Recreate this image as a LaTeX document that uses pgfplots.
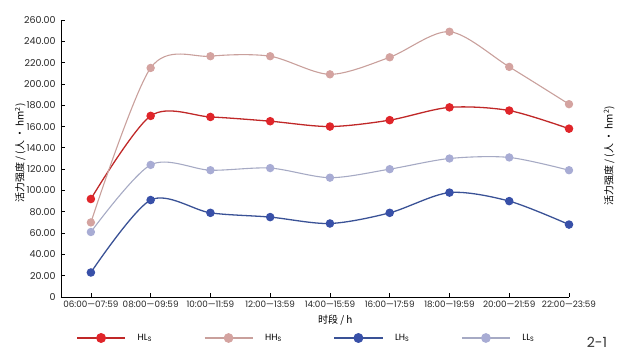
\documentclass[border=0pt]{standalone}
\usepackage{pgfplots}
\pgfplotsset{compat=1.18}
\usepackage{fontspec}
\setmainfont{Poppins}
\newfontfamily\cjk{Noto Sans CJK SC}
\definecolor{hlL}{HTML}{C02828}
\definecolor{hlM}{HTML}{E0252A}
\definecolor{hhL}{HTML}{C9A09C}
\definecolor{hhM}{HTML}{D4A3A0}
\definecolor{lhL}{HTML}{3A5296}
\definecolor{lhM}{HTML}{3850A8}
\definecolor{llL}{HTML}{A6AAC4}
\definecolor{llM}{HTML}{A8ACD4}
\begin{document}
\begin{tikzpicture}
\path[use as bounding box] (0,0) rectangle (617bp,356bp);
\begin{axis}[
  at={(61bp,59bp)}, anchor=south west,
  scale only axis, width=508bp, height=277bp,
  xmin=-0.5, xmax=8, ymin=0, ymax=260,
  axis x line=bottom, axis y line=left,
  axis line style={-, black, line width=0.8pt},
  tick align=inside, major tick length=3.5bp,
  tick style={black, line width=0.7pt},
  xtick={0,...,8},
  xticklabels={06:00—07:59,08:00—09:59,10:00—11:59,12:00—13:59,14:00—15:59,16:00—17:59,18:00—19:59,20:00—21:59,22:00—23:59},
  ytick={0,20,...,260},
  yticklabels={0,20.00,40.00,60.00,80.00,100.00,120.00,140.00,160.00,180.00,200.00,220.00,240.00,260.00},
  /pgf/number format/assume math mode=true,
  tick label style={text=black!85},
  xticklabel style={font=\fontsize{8.8bp}{10bp}\selectfont, inner xsep=0pt, yshift=0bp},
  yticklabel style={font=\fontsize{9.5bp}{10bp}\selectfont, xshift=-2bp},
  ylabel={\cjk 活力强度 / (人 · hm\textsuperscript{2})},
  ylabel style={font=\fontsize{10bp}{11bp}\selectfont, at={(axis description cs:-0.08,0.52)}, anchor=center},
  xlabel={\cjk 时段 / h},
  xlabel style={font=\fontsize{10bp}{11bp}\selectfont, at={(axis description cs:0.54,-0.083)}, anchor=center},
  clip=false,
  legend columns=4,
  legend style={draw=none, fill=none, at={(axis description cs:0.03,-0.148)}, anchor=west,
    font=\fontsize{9bp}{10bp}\selectfont, inner sep=0pt,
    /tikz/every odd column/.append style={column sep=10bp},
    /tikz/every even column/.append style={column sep=50bp}},
  legend image code/.code={\draw[mark repeat=2, mark phase=2, #1, mark size=4.3bp] plot coordinates {(0bp,0bp) (24bp,0bp) (48bp,0bp)};},
]
\addplot[smooth, hlL, line width=1.3pt, mark=*, mark size=3.6bp, mark options={fill=hlM, draw=hlM}]
  coordinates {(0,92) (1,170) (2,169) (3,165) (4,160) (5,166) (6,178) (7,175) (8,158)};
\addlegendentry{HL\textsubscript{S}}
\addplot[smooth, hhL, line width=1.1pt, mark=*, mark size=3.6bp, mark options={fill=hhM, draw=hhM}]
  coordinates {(0,70) (1,215) (2,226) (3,226) (4,209) (5,225) (6,249) (7,216) (8,181)};
\addlegendentry{HH\textsubscript{S}}
\addplot[smooth, lhL, line width=1.3pt, mark=*, mark size=3.6bp, mark options={fill=lhM, draw=lhM}]
  coordinates {(0,23) (1,91) (2,79) (3,75) (4,69) (5,79) (6,98) (7,90) (8,68)};
\addlegendentry{LH\textsubscript{S}}
\addplot[smooth, llL, line width=1.1pt, mark=*, mark size=3.6bp, mark options={fill=llM, draw=llM}]
  coordinates {(0,61) (1,124) (2,119) (3,121) (4,112) (5,120) (6,130) (7,131) (8,119)};
\addlegendentry{LL\textsubscript{S}}
\node[rotate=90, font=\fontsize{10bp}{11bp}\selectfont] at (rel axis cs:1.079,0.51) {\cjk 活力强度 / (人 · hm\textsuperscript{2})};
\node[font=\fontsize{14bp}{15bp}\selectfont, text=black!80] at (rel axis cs:1.055,-0.162) {2-1};
\end{axis}
\end{tikzpicture}
\end{document}
